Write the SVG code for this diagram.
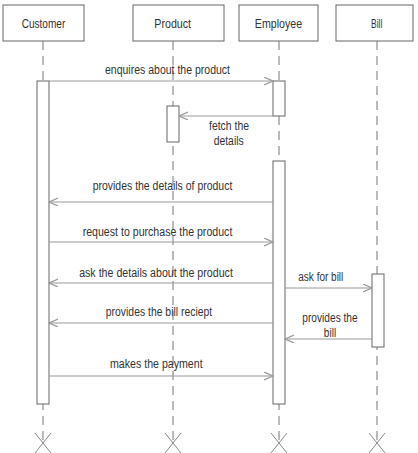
<svg xmlns="http://www.w3.org/2000/svg" width="418" height="453" viewBox="0 0 418 453">
<style>
.box{fill:#fff;stroke:#666;stroke-width:1}
.life{stroke:#777;stroke-width:1;stroke-dasharray:9 6;fill:none}
.act{fill:#fff;stroke:#666;stroke-width:1}
.x{stroke:#888;stroke-width:1;fill:none}
.msg{stroke:#999;stroke-width:1.2;fill:none;marker-end:url(#arr)}
text{font-family:"Liberation Sans",Arial,sans-serif;font-size:12.5px;fill:#333;text-anchor:middle}
.hd{font-size:13.5px}
</style>
<defs>
<marker id="arr" markerWidth="10" markerHeight="10" refX="9" refY="4" orient="auto" markerUnits="userSpaceOnUse">
<path d="M0,0 L9,4 L0,8" fill="none" stroke="#999" stroke-width="1.2"/>
</marker>
</defs>
<rect width="418" height="453" fill="#fff"/>
<g id="customer">
<rect class="box" x="3" y="5" width="81" height="36"/>
<text class="hd" x="43.5" y="27.5" textLength="43.6" lengthAdjust="spacingAndGlyphs">Customer</text>
<line class="life" x1="43" y1="41" x2="43" y2="443"/>
<rect class="act" x="37" y="81" width="12" height="323"/>
<path class="x" d="M35,433 L51,453 M51,433 L35,453"/>
</g>
<g id="product">
<rect class="box" x="133" y="5" width="91" height="36"/>
<text class="hd" x="172.7" y="27.5" textLength="36.7" lengthAdjust="spacingAndGlyphs">Product</text>
<line class="life" x1="173" y1="41" x2="173" y2="443"/>
<rect class="act" x="167" y="106" width="12" height="36"/>
<path class="x" d="M165,433 L181,453 M181,433 L165,453"/>
</g>
<g id="employee">
<rect class="box" x="239" y="5" width="79" height="36"/>
<text class="hd" x="278.5" y="27.5" textLength="47.3" lengthAdjust="spacingAndGlyphs">Employee</text>
<line class="life" x1="279" y1="41" x2="279" y2="443"/>
<rect class="act" x="273" y="81" width="12" height="35"/>
<rect class="act" x="273" y="161" width="12" height="243"/>
<path class="x" d="M271,433 L287,453 M287,433 L271,453"/>
</g>
<g id="bill">
<rect class="box" x="336" y="5" width="77" height="36"/>
<text class="hd" x="376.7" y="27.5" textLength="11.3" lengthAdjust="spacingAndGlyphs">Bill</text>
<line class="life" x1="377" y1="41" x2="377" y2="443"/>
<rect class="act" x="372" y="274" width="12" height="73"/>
<path class="x" d="M369,433 L385,453 M385,433 L369,453"/>
</g>
<g id="connectors">
<line class="msg" x1="49" y1="81" x2="273" y2="81"/>
<text x="167.5" y="74" textLength="125" lengthAdjust="spacingAndGlyphs">enquires about the product</text>
<line class="msg" x1="273" y1="116" x2="179" y2="116"/>
<text x="229" y="130" textLength="40" lengthAdjust="spacingAndGlyphs">fetch the</text>
<text x="228.7" y="145" textLength="30" lengthAdjust="spacingAndGlyphs">details</text>
<line class="msg" x1="273" y1="202" x2="49" y2="202"/>
<text x="162.5" y="190" textLength="139.7" lengthAdjust="spacingAndGlyphs">provides the details of product</text>
<line class="msg" x1="49" y1="242" x2="273" y2="242"/>
<text x="157.5" y="236" textLength="149.7" lengthAdjust="spacingAndGlyphs">request to purchase the product</text>
<line class="msg" x1="273" y1="283" x2="49" y2="283"/>
<text x="156" y="276.5" textLength="153.7" lengthAdjust="spacingAndGlyphs">ask the details about the product</text>
<line class="msg" x1="285" y1="288" x2="372" y2="288"/>
<text x="320.8" y="280.5" textLength="45" lengthAdjust="spacingAndGlyphs">ask for bill</text>
<line class="msg" x1="273" y1="323" x2="49" y2="323"/>
<text x="159" y="315.5" textLength="106.3" lengthAdjust="spacingAndGlyphs">provides the bill reciept</text>
<line class="msg" x1="372" y1="339" x2="285" y2="339"/>
<text x="330" y="322" textLength="55.3" lengthAdjust="spacingAndGlyphs">provides the</text>
<text x="330" y="336.5" textLength="12.3" lengthAdjust="spacingAndGlyphs">bill</text>
<line class="msg" x1="49" y1="376" x2="273" y2="376"/>
<text x="156.3" y="367.5" textLength="92.7" lengthAdjust="spacingAndGlyphs">makes the payment</text>
</g>
</svg>
